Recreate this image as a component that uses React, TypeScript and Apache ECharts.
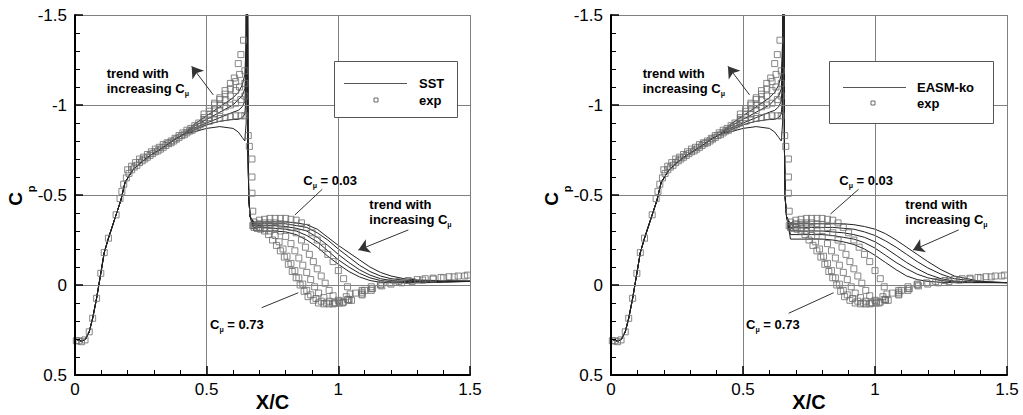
import React, { useEffect, useRef } from "react";
import * as echarts from "echarts";

// ---- CFD surface pressure: common leading part (x/c, Cp) ----
const frontX = [0, 0.01, 0.02, 0.03, 0.04, 0.054, 0.067, 0.082, 0.098, 0.111, 0.127, 0.156, 0.174, 0.19, 0.22, 0.25, 0.285, 0.32, 0.35, 0.38, 0.41];
const frontCp = [0.3, 0.305, 0.31, 0.31, 0.3, 0.26, 0.185, 0.074, -0.065, -0.18, -0.26, -0.39, -0.47, -0.57, -0.64, -0.68, -0.72, -0.75, -0.78, -0.81, -0.835];

// approach to the slot
const slotX = [0.45, 0.5, 0.55, 0.6, 0.62, 0.635, 0.645, 0.65];
// suction peak at the slot and the drop behind it
const spikeX = [0.651, 0.655, 0.657, 0.66, 0.665];
const spikeCp = [-1.8, -1.8, -0.75, -0.48, -0.38];
// recovery region
const aftX = [0.68, 0.72, 0.76, 0.8, 0.84, 0.88, 0.92, 0.96, 1.0, 1.04, 1.08, 1.12, 1.16, 1.2, 1.25, 1.3, 1.4, 1.5];

// SST, five blowing levels (Cmu = 0.03 ... 0.73)
const sstSlot1 = [-0.85, -0.87, -0.88, -0.87, -0.85, -0.82, -0.8, -0.9];
const sstSlot2 = [-0.86, -0.89, -0.91, -0.92, -0.92, -0.93, -0.95, -1.05];
const sstSlot3 = [-0.87, -0.9, -0.93, -0.96, -0.97, -0.99, -1.02, -1.15];
const sstSlot4 = [-0.88, -0.92, -0.96, -1.0, -1.03, -1.05, -1.09, -1.25];
const sstSlot5 = [-0.89, -0.94, -0.99, -1.04, -1.07, -1.11, -1.17, -1.35];
const sstAft1 = [-0.35, -0.35, -0.35, -0.35, -0.345, -0.335, -0.31, -0.265, -0.22, -0.18, -0.14, -0.1, -0.07, -0.05, -0.035, -0.028, -0.024, -0.022];
const sstAft2 = [-0.34, -0.34, -0.34, -0.34, -0.33, -0.32, -0.29, -0.25, -0.2, -0.155, -0.11, -0.075, -0.05, -0.035, -0.027, -0.023, -0.022, -0.021];
const sstAft3 = [-0.33, -0.33, -0.33, -0.325, -0.315, -0.3, -0.265, -0.22, -0.17, -0.125, -0.085, -0.055, -0.035, -0.025, -0.02, -0.019, -0.02, -0.02];
const sstAft4 = [-0.32, -0.32, -0.315, -0.31, -0.3, -0.275, -0.24, -0.19, -0.14, -0.1, -0.065, -0.04, -0.025, -0.018, -0.015, -0.015, -0.018, -0.02];
const sstAft5 = [-0.3, -0.3, -0.3, -0.295, -0.28, -0.25, -0.21, -0.16, -0.115, -0.075, -0.045, -0.025, -0.015, -0.012, -0.012, -0.012, -0.015, -0.02];

// EASM-ko, five blowing levels
const easmSlot1 = [-0.85, -0.87, -0.88, -0.87, -0.85, -0.82, -0.8, -0.9];
const easmSlot2 = [-0.86, -0.89, -0.91, -0.92, -0.92, -0.93, -0.95, -1.05];
const easmSlot3 = [-0.87, -0.9, -0.93, -0.96, -0.97, -0.99, -1.02, -1.15];
const easmSlot4 = [-0.88, -0.92, -0.96, -1.0, -1.03, -1.05, -1.09, -1.25];
const easmSlot5 = [-0.89, -0.94, -0.99, -1.04, -1.07, -1.11, -1.17, -1.35];
const easmAft1 = [-0.34, -0.34, -0.34, -0.34, -0.34, -0.34, -0.335, -0.325, -0.31, -0.285, -0.25, -0.21, -0.17, -0.13, -0.085, -0.05, -0.02, -0.013];
const easmAft2 = [-0.32, -0.32, -0.32, -0.32, -0.32, -0.315, -0.31, -0.295, -0.275, -0.245, -0.21, -0.17, -0.13, -0.095, -0.06, -0.035, -0.018, -0.013];
const easmAft3 = [-0.3, -0.3, -0.3, -0.3, -0.295, -0.29, -0.28, -0.265, -0.24, -0.205, -0.165, -0.125, -0.09, -0.06, -0.035, -0.022, -0.015, -0.013];
const easmAft4 = [-0.28, -0.28, -0.28, -0.28, -0.275, -0.265, -0.255, -0.235, -0.205, -0.165, -0.125, -0.09, -0.06, -0.04, -0.025, -0.017, -0.014, -0.013];
const easmAft5 = [-0.255, -0.255, -0.255, -0.255, -0.25, -0.24, -0.225, -0.2, -0.165, -0.125, -0.085, -0.05, -0.03, -0.02, -0.015, -0.013, -0.013, -0.013];

// ---- experiment (x/c, Cp) ----
const expFront = [
  [0.005, 0.31], [0.015, 0.31], [0.025, 0.315], [0.038, 0.305], [0.054, 0.26], [0.067, 0.185], [0.082, 0.074],
  [0.098, -0.065], [0.111, -0.18], [0.127, -0.26], [0.156, -0.39], [0.171, -0.48], [0.178, -0.52], [0.185, -0.56],
  [0.195, -0.595], [0.205, -0.62], [0.215, -0.64], [0.225, -0.655], [0.235, -0.665], [0.245, -0.68], [0.255, -0.69],
  [0.265, -0.7], [0.275, -0.71], [0.285, -0.72], [0.295, -0.73], [0.305, -0.74], [0.315, -0.745], [0.325, -0.755],
  [0.335, -0.765], [0.345, -0.775], [0.355, -0.785], [0.365, -0.79], [0.375, -0.8], [0.385, -0.81], [0.395, -0.82],
  [0.405, -0.83], [0.415, -0.835], [0.425, -0.845], [0.435, -0.855], [0.445, -0.86], [0.455, -0.87], [0.465, -0.88],
  [0.475, -0.89], [0.2, -0.64], [0.215, -0.66], [0.23, -0.68], [0.245, -0.7], [0.26, -0.71], [0.275, -0.725],
  [0.29, -0.74], [0.305, -0.755], [0.32, -0.765], [0.335, -0.78], [0.35, -0.79], [0.365, -0.8], [0.38, -0.815],
  [0.395, -0.83], [0.41, -0.845], [0.425, -0.86], [0.44, -0.87], [0.455, -0.885], [0.47, -0.9],
];
const expSet1 = [
  [0.49, -0.9], [0.51, -0.91], [0.53, -0.92], [0.55, -0.925], [0.57, -0.93], [0.59, -0.935], [0.61, -0.94], [0.63, -0.94], [0.645, -0.94],
  [0.658, -0.83], [0.662, -0.77], [0.672, -0.7], [0.672, -0.6], [0.672, -0.51], [0.675, -0.41],
  [0.68, -0.35], [0.7, -0.36], [0.72, -0.365], [0.74, -0.37], [0.76, -0.37], [0.78, -0.37], [0.8, -0.37], [0.82, -0.365],
  [0.84, -0.36], [0.86, -0.345], [0.88, -0.32], [0.9, -0.29], [0.92, -0.25], [0.94, -0.21], [0.96, -0.17], [0.98, -0.13],
  [1.0, -0.08], [1.02, -0.035], [1.035, 0.01], [1.045, 0.05], [1.05, 0.085], [1.09, 0.04], [1.125, 0.01], [1.16, -0.005],
  [1.195, -0.012], [1.23, -0.02], [1.265, -0.025], [1.3, -0.03], [1.33, -0.035], [1.36, -0.038], [1.39, -0.042],
  [1.42, -0.046], [1.455, -0.05], [1.49, -0.055],
];
const expSet2 = [
  [0.49, -0.91], [0.51, -0.93], [0.53, -0.95], [0.55, -0.97], [0.57, -0.99], [0.59, -1.0], [0.61, -1.01], [0.63, -1.03], [0.645, -1.05],
  [0.68, -0.33], [0.7, -0.34], [0.72, -0.345], [0.74, -0.345], [0.76, -0.345], [0.78, -0.34], [0.8, -0.335], [0.82, -0.32],
  [0.84, -0.29], [0.86, -0.25], [0.875, -0.21], [0.89, -0.17], [0.905, -0.13], [0.92, -0.09], [0.935, -0.05], [0.95, -0.01],
  [0.965, 0.03], [0.98, 0.06], [1.0, 0.085], [1.02, 0.095], [1.04, 0.08], [1.09, 0.03], [1.125, 0.02], [1.16, 0.0],
];
const expSet3 = [
  [0.49, -0.92], [0.51, -0.95], [0.53, -0.98], [0.55, -1.0], [0.57, -1.03], [0.59, -1.05], [0.61, -1.08], [0.625, -1.1], [0.645, -1.12],
  [0.68, -0.33], [0.7, -0.335], [0.72, -0.335], [0.74, -0.33], [0.76, -0.32], [0.78, -0.3], [0.8, -0.27], [0.82, -0.23],
  [0.835, -0.19], [0.85, -0.15], [0.865, -0.11], [0.88, -0.07], [0.895, -0.03], [0.91, 0.01], [0.925, 0.045], [0.945, 0.07],
  [0.965, 0.09], [0.99, 0.1], [1.015, 0.1], [1.04, 0.085], [1.09, 0.055], [1.125, 0.03],
];
const expSet4 = [
  [0.49, -0.93], [0.51, -0.965], [0.53, -1.0], [0.55, -1.03], [0.57, -1.06], [0.59, -1.09], [0.61, -1.13], [0.625, -1.17], [0.645, -1.19],
  [0.68, -0.32], [0.7, -0.32], [0.72, -0.315], [0.74, -0.3], [0.76, -0.275], [0.775, -0.24], [0.79, -0.2], [0.805, -0.16],
  [0.82, -0.12], [0.835, -0.08], [0.85, -0.04], [0.865, -0.005], [0.88, 0.03], [0.895, 0.055], [0.915, 0.075], [0.935, 0.09],
  [0.955, 0.1], [0.98, 0.105], [1.005, 0.1], [1.035, 0.08], [1.09, 0.05],
];
const expSet5 = [
  [0.49, -0.95], [0.51, -0.98], [0.53, -1.01], [0.55, -1.04], [0.57, -1.08], [0.59, -1.12], [0.605, -1.15], [0.62, -1.23], [0.63, -1.28], [0.64, -1.36],
  [0.675, -0.33], [0.69, -0.32], [0.705, -0.31], [0.72, -0.3], [0.735, -0.28], [0.75, -0.25], [0.765, -0.22], [0.78, -0.19],
  [0.795, -0.155], [0.81, -0.115], [0.825, -0.075], [0.84, -0.04], [0.855, 0.0], [0.87, 0.035], [0.885, 0.065], [0.905, 0.085],
  [0.925, 0.1], [0.945, 0.105], [0.965, 0.105], [0.985, 0.1], [1.005, 0.09], [1.03, 0.065], [1.065, 0.045], [1.1, 0.03],
  [1.13, 0.02], [1.165, 0.005], [1.2, -0.005], [1.24, -0.012], [1.28, -0.02], [1.32, -0.027], [1.36, -0.033], [1.4, -0.04],
  [1.44, -0.045], [1.48, -0.05],
];

// axis ranges and tick spacing
const xRange = [0, 1.5];
const yRange = [-1.5, 0.5];
const majorStep = 0.5;
const minorSplits = 5;

const FONT = '"Liberation Sans", Arial, Helvetica, sans-serif';
const LINE = "#222";
const MARK = "#6a6a6a";

function buildCurve(slot: number[], aft: number[]) {
  return [
    ...frontX.map((x, i) => [x, frontCp[i]]),
    ...slotX.map((x, i) => [x, slot[i]]),
    ...spikeX.map((x, i) => [x, spikeCp[i]]),
    ...aftX.map((x, i) => [x, aft[i]]),
  ];
}

const sstCurves = [
  buildCurve(sstSlot1, sstAft1), buildCurve(sstSlot2, sstAft2), buildCurve(sstSlot3, sstAft3),
  buildCurve(sstSlot4, sstAft4), buildCurve(sstSlot5, sstAft5),
];
const easmCurves = [
  buildCurve(easmSlot1, easmAft1), buildCurve(easmSlot2, easmAft2), buildCurve(easmSlot3, easmAft3),
  buildCurve(easmSlot4, easmAft4), buildCurve(easmSlot5, easmAft5),
];
const expSets = [expFront, expSet1, expSet2, expSet3, expSet4, expSet5];

type Panel = {
  label: string;
  curves: number[][][];
  left: number;
  width: number;
  arrows: number[][][];
  pointers: number[][][];
  legendBox: { x: number; y: number; w: number; h: number; lineX: number; lineW: number; rowA: number; rowB: number; textX: number; markX: number };
};

const panels: Panel[] = [
  {
    label: "SST",
    curves: sstCurves,
    left: 75,
    width: 395,
    arrows: [
      [[0.525, -1.056], [0.443, -1.215]],
      [[1.266, -0.306], [1.076, -0.194]],
    ],
    pointers: [
      [[0.835, -0.389], [0.939, -0.532]],
      [[0.709, 0.126], [0.848, 0.043]],
    ],
    legendBox: { x: 334, y: 61, w: 123, h: 56, lineX: 344, lineW: 63, rowA: 83, rowB: 100, textX: 419, markX: 376 },
  },
  {
    label: "EASM-ko",
    curves: easmCurves,
    left: 611,
    width: 396,
    arrows: [
      [[0.525, -1.056], [0.443, -1.215]],
      [[1.317, -0.306], [1.144, -0.194]],
    ],
    pointers: [
      [[0.831, -0.394], [0.938, -0.532]],
      [[0.673, 0.157], [0.843, 0.043]],
    ],
    legendBox: { x: 829, y: 61, w: 164, h: 62, lineX: 843, lineW: 63, rowA: 87, rowB: 103, textX: 917, markX: 873 },
  },
];

const TOP = 15;
const HEIGHT = 360;

const boldRich = {
  b: { fontFamily: FONT, fontWeight: "bold", fontSize: 13, lineHeight: 17, fill: "#000" },
  s: { fontFamily: FONT, fontWeight: "bold", fontSize: 7, lineHeight: 7, verticalAlign: "bottom", fill: "#000" },
};

function richText(x: number, y: number, text: string) {
  return {
    type: "text",
    x,
    y,
    z: 20,
    style: { text, rich: boldRich, fill: "#000", verticalAlign: "middle", align: "left", font: `bold 13px ${FONT}` },
  };
}

function buildOption() {
  const grid: any[] = [];
  const xAxis: any[] = [];
  const yAxis: any[] = [];
  const series: any[] = [];
  const graphic: any[] = [];

  panels.forEach((p, k) => {
    grid.push({ left: p.left, top: TOP, width: p.width, height: HEIGHT, containLabel: false });
    xAxis.push({
      gridIndex: k,
      type: "value",
      position: "bottom",
      min: xRange[0],
      max: xRange[1],
      interval: majorStep,
      axisLine: { show: true, onZero: false, lineStyle: { color: "#000", width: 2 } },
      axisTick: { show: true, inside: true, length: 9, lineStyle: { color: "#000", width: 1.5 } },
      minorTick: { show: true, splitNumber: minorSplits, length: 5, lineStyle: { color: "#000", width: 1 } },
      axisLabel: { color: "#000", fontFamily: FONT, fontSize: 17, margin: 6 },
      splitLine: { show: true, lineStyle: { color: "#808080", width: 1 } },
      z: 5,
    });
    yAxis.push({
      gridIndex: k,
      type: "value",
      position: "left",
      inverse: true,
      min: yRange[0],
      max: yRange[1],
      interval: majorStep,
      axisLine: { show: true, onZero: false, lineStyle: { color: "#000", width: 2 } },
      axisTick: { show: true, inside: true, length: 8, lineStyle: { color: "#000", width: 1.5 } },
      minorTick: { show: true, splitNumber: minorSplits, length: 5, lineStyle: { color: "#000", width: 1 } },
      axisLabel: { color: "#000", fontFamily: FONT, fontSize: 17, margin: 8 },
      splitLine: { show: true, lineStyle: { color: "#808080", width: 1 } },
      z: 5,
    });

    p.curves.forEach((c, i) => {
      series.push({
        type: "line",
        name: `${p.label}-${i}`,
        xAxisIndex: k,
        yAxisIndex: k,
        data: c,
        showSymbol: false,
        symbol: "none",
        clip: true,
        lineStyle: { color: LINE, width: 1 },
        z: 2,
      });
    });

    expSets.forEach((d, i) => {
      const s: any = {
        type: "scatter",
        name: `exp-${k}-${i}`,
        xAxisIndex: k,
        yAxisIndex: k,
        data: d,
        symbol: "rect",
        symbolSize: 6,
        itemStyle: { color: "rgba(255,255,255,0)", borderColor: MARK, borderWidth: 1 },
        z: 3,
      };
      if (i === 0) {
        s.markLine = {
          silent: true,
          animation: false,
          label: { show: false },
          lineStyle: { color: "#333", width: 1, type: "solid" },
          data: [
            ...p.arrows.map((a) => [
              { coord: a[0], symbol: "none" },
              { coord: a[1], symbol: "arrow", symbolSize: 11 },
            ]),
            ...p.pointers.map((a) => [
              { coord: a[0], symbol: "none" },
              { coord: a[1], symbol: "none" },
            ]),
          ],
        };
      }
      series.push(s);
    });

    const dx = p.left - 75;
    // annotations
    graphic.push(richText(106.7 + dx, 73, "{b|trend with}"));
    graphic.push(richText(106.7 + dx, 88, "{b|increasing C}{s|μ}"));
    graphic.push(richText(303.3 + dx, 180, "{b|C}{s|μ}{b| = 0.03}"));
    graphic.push(richText(369.3 + dx, 204, "{b|trend with}"));
    graphic.push(richText(369.3 + dx, 219, "{b|increasing C}{s|μ}"));
    graphic.push(richText(210 + dx, 324, "{b|C}{s|μ}{b| = 0.73}"));

    // legend box
    const L = p.legendBox;
    graphic.push({
      type: "rect",
      z: 10,
      shape: { x: L.x + 0.5, y: L.y + 0.5, width: L.w, height: L.h },
      style: { fill: "#fff", stroke: "#555", lineWidth: 1 },
    });
    graphic.push({
      type: "line",
      z: 11,
      shape: { x1: L.lineX, y1: L.rowA + 0.5, x2: L.lineX + L.lineW, y2: L.rowA + 0.5 },
      style: { stroke: "#555", lineWidth: 1 },
    });
    graphic.push({
      type: "rect",
      z: 11,
      shape: { x: L.markX - 2, y: L.rowB - 2, width: 4, height: 4 },
      style: { fill: "#fff", stroke: MARK, lineWidth: 1 },
    });
    graphic.push({
      type: "text",
      z: 11,
      x: L.textX,
      y: L.rowA,
      style: { text: p.label, font: `bold 13px ${FONT}`, fill: "#000", verticalAlign: "middle" },
    });
    graphic.push({
      type: "text",
      z: 11,
      x: L.textX,
      y: L.rowB,
      style: { text: "exp", font: `bold 13px ${FONT}`, fill: "#000", verticalAlign: "middle" },
    });

    // axis titles
    graphic.push({
      type: "text",
      z: 11,
      x: p.left + p.width / 2,
      y: 402,
      style: { text: "X/C", font: `bold 20px ${FONT}`, fill: "#000", align: "center", verticalAlign: "middle" },
    });
    graphic.push({
      type: "text",
      z: 11,
      x: 15 + dx,
      y: 199,
      rotation: Math.PI / 2,
      style: { text: "C", font: `bold 19px ${FONT}`, fill: "#000", align: "center", verticalAlign: "middle" },
    });
    graphic.push({
      type: "text",
      z: 11,
      x: 31 + dx,
      y: 189,
      rotation: Math.PI / 2,
      style: { text: "p", font: `bold 11px ${FONT}`, fill: "#000", align: "center", verticalAlign: "middle" },
    });
  });

  return {
    animation: false,
    backgroundColor: "#fff",
    grid,
    xAxis,
    yAxis,
    series,
    graphic,
  };
}

export default function App() {
  const ref = useRef<HTMLDivElement>(null);
  useEffect(() => {
    if (!ref.current) return;
    const chart = echarts.init(ref.current, undefined, { renderer: "svg" });
    chart.setOption(buildOption() as any);
    return () => chart.dispose();
  }, []);
  return (
    <div
      ref={ref}
      style={{ position: "absolute", left: 0, top: 0, width: 1023, height: 415, background: "#fff" }}
    />
  );
}
